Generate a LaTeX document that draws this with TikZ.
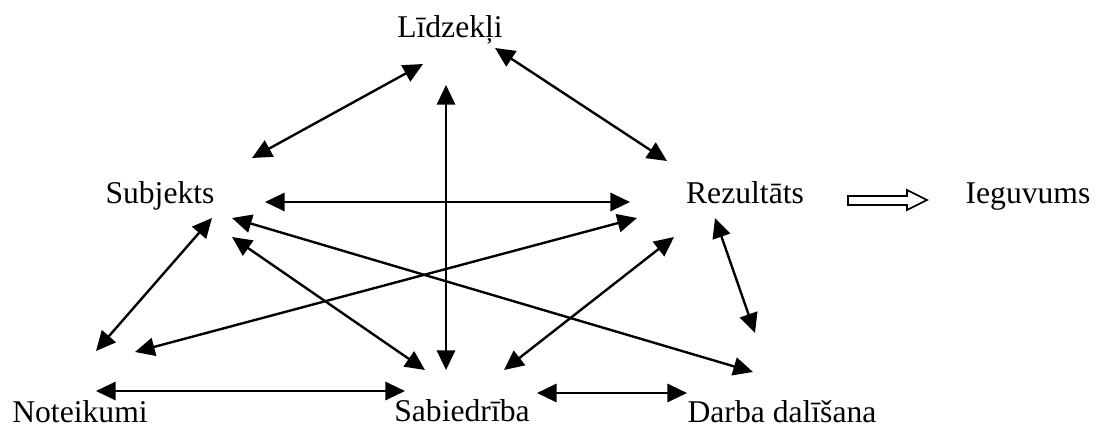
\documentclass[tikz,border=0pt]{standalone}
\usepackage{fontspec}
\setmainfont{Liberation Serif}
\usepackage{tikz}
\usetikzlibrary{calc}
\usetikzlibrary{arrows.meta}
\usetikzlibrary{positioning}
\usepackage{xcolor}

\begin{document}
\begin{tikzpicture}[x=0.025cm, y=-0.025cm,
    >={Triangle[length=14pt, width=13pt]},
    word/.style={anchor=base, inner sep=0pt, font=\fontsize{22.5}{27}\selectfont},
    link/.style={<->, line width=1.7pt}]
    \useasboundingbox (0,0) rectangle (1103,427);

    % 1. Place the words
    \node[word] (lid) at (450,38) {Līdzekļi};
    \node[word] (sub) at (160,203) {Subjekts};
    \node[word] (rez) at (745,203) {Rezultāts};
    \node[word] (ieg) at (1028,203) {Ieguvums};
    \node[word] (note) at (80,422) {Noteikumi};
    \node[word] (sab) at (462,421) {Sabiedrība};
    \node[word] (darba) at (782,422) {Darba dalīšana};

    % 2. Arrows from the top word
    \draw[link] ($(lid.base)+(-27,26)$) -- ($(sub.base)+(92,-45)$);
    \draw[link] ($(lid.base)+(45,10)$) -- ($(rez.base)+(-78,-42)$);
    \draw[link] ($(lid.base)+(-4,47)$) -- ($(sab.base)+(-16,-51)$);

    % 3. Arrows from Subjekts
    \draw[link] ($(sub.base)+(105,-1)$) -- ($(rez.base)+(-115,-1)$);
    \draw[link] ($(sub.base)+(52,15)$) -- ($(note.base)+(16,-71)$);
    \draw[link] ($(sub.base)+(72,34)$) -- ($(sab.base)+(-37,-51)$);
    \draw[link] ($(sub.base)+(72,15)$) -- ($(darba.base)+(-29,-50)$);

    % 4. Arrows from Rezultats
    \draw[link] ($(rez.base)+(-108,15)$) -- ($(note.base)+(55,-70)$);
    \draw[link] ($(rez.base)+(-71,34)$) -- ($(sab.base)+(42,-51)$);
    \draw[link] ($(rez.base)+(-30,15)$) -- ($(darba.base)+(-27,-89)$);

    % 5. Arrows along the bottom row
    \draw[link] ($(note.base)+(16,-31)$) -- ($(sab.base)+(-57,-30)$);
    \draw[link] ($(sab.base)+(75,-28)$) -- ($(darba.base)+(-95,-29)$);

    % 6. Hollow arrow to Ieguvums
    \draw[line width=1.2pt, line join=miter] ($(rez.base)+(103,-7)$) -- ++(59,0) -- ++(0,-6)
        -- ++(20,10) -- ++(-20,10) -- ++(0,-5) -- ++(-59,0) -- cycle;

\end{tikzpicture}
\end{document}
